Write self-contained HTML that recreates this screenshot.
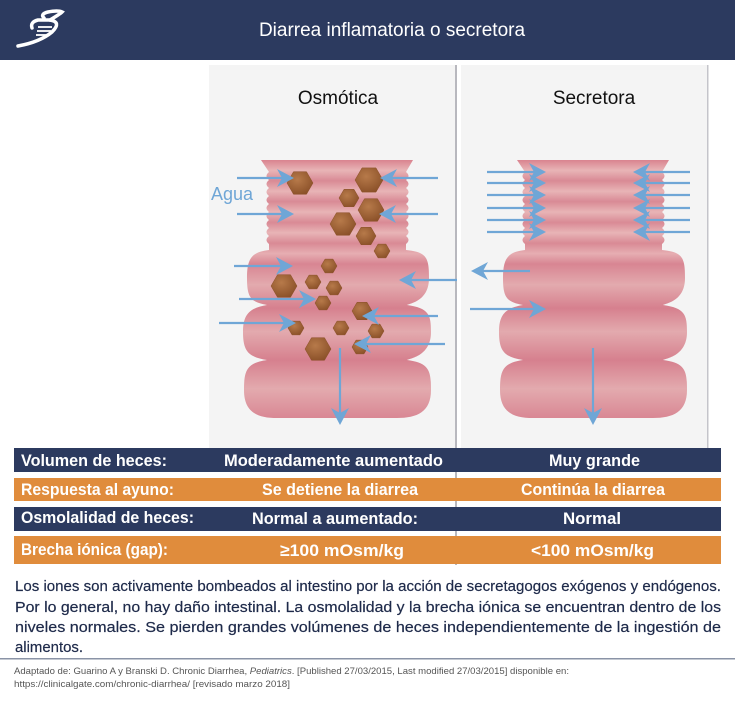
<!DOCTYPE html>
<html><head><meta charset="utf-8">
<style>
html,body{margin:0;padding:0;background:#fff;}
body{width:735px;height:696px;overflow:hidden;font-family:"Liberation Sans",sans-serif;}
</style></head><body>
<svg width="735" height="696" viewBox="0 0 735 696" xmlns="http://www.w3.org/2000/svg" font-family="Liberation Sans, sans-serif">
<defs>
<linearGradient id="g" x1="0" y1="160" x2="0" y2="420" gradientUnits="userSpaceOnUse">
<stop offset="0" stop-color="#d9838f"/>
<stop offset="0.04" stop-color="#e8b4b6"/>
<stop offset="0.08" stop-color="#d98a95"/>
<stop offset="0.12" stop-color="#e8b4b6"/>
<stop offset="0.16" stop-color="#d98a95"/>
<stop offset="0.20" stop-color="#e8b4b6"/>
<stop offset="0.24" stop-color="#d98a95"/>
<stop offset="0.28" stop-color="#e8b4b6"/>
<stop offset="0.32" stop-color="#d98a95"/>
<stop offset="0.36" stop-color="#e6aeb2"/>
<stop offset="0.40" stop-color="#d88592"/>
<stop offset="0.48" stop-color="#e3aaae"/>
<stop offset="0.57" stop-color="#d6808e"/>
<stop offset="0.66" stop-color="#e3aaae"/>
<stop offset="0.77" stop-color="#d6808e"/>
<stop offset="0.88" stop-color="#e3aaae"/>
<stop offset="1" stop-color="#d88592"/>
</linearGradient>
<radialGradient id="h" cx="0.4" cy="0.35" r="0.7">
<stop offset="0" stop-color="#b77a4a"/>
<stop offset="1" stop-color="#8a5028"/>
</radialGradient>
<path id="int" d="M -76,160 L 76,160 L 69,172 Q 74,176 69,180 Q 74,184 69,188 Q 74,192 69,196 Q 74,200 69,204 Q 74,208 69,212 Q 74,216 69,220 Q 74,224 69,228 Q 74,232 69,236 Q 74,240 69,244 L 69,250 C 90,252 92,258 92,278 C 92,300 75,303 70,305 C 92,308 94,315 94,332 C 94,355 75,358 70,360 C 92,363 94,370 94,390 C 94,412 80,418 60,418 L -60,418 C -80,418 -93,412 -93,390 C -93,370 -90,363 -70,360 C -88,357 -94,352 -94,332 C -94,315 -88,308 -70,305 C -86,302 -90,298 -90,278 C -90,258 -85,252 -68,250 L -68,244 Q -73,240 -68,236 Q -73,232 -68,228 Q -73,224 -68,220 Q -73,216 -68,212 Q -73,208 -68,204 Q -73,200 -68,196 Q -73,192 -68,188 Q -73,184 -68,180 Q -73,176 -68,172 Z"/>
<g id="ar"><path d="M1,0 L-16,-9 L-11,0 L-16,9 Z" fill="#6fa6d6"/></g>
</defs>
<rect x="0" y="0" width="735" height="60" fill="#2c3a5f"/>
<text x="392" y="36" fill="#fff" font-size="19" text-anchor="middle">Diarrea inflamatoria o secretora</text>
<g fill="none" stroke="#fff" stroke-width="3.5" stroke-linecap="round">
<path d="M18,46 Q40,42 52,32 Q62,22 50,20 L38,20 Q30,22 32,28"/>
<path d="M50,20 Q60,14 62,12 Q58,10 48,12 Q40,14 44,18"/>
</g>
<g stroke="#fff" stroke-width="1.8"><line x1="38" y1="27" x2="52" y2="27"/><line x1="37" y1="31" x2="51" y2="31"/><line x1="36" y1="35" x2="48" y2="35"/></g>
<rect x="209" y="65" width="246" height="383" fill="#f4f4f4"/>
<rect x="461" y="65" width="246" height="383" fill="#f4f4f4"/>
<rect x="455" y="65" width="2" height="500" fill="#b8b8be"/>
<rect x="707" y="65" width="1.5" height="383" fill="#c4c4ca"/>
<text x="338" y="104" font-size="19" text-anchor="middle" fill="#111">Osmótica</text>
<text x="594" y="104" font-size="19" text-anchor="middle" fill="#111">Secretora</text>
<use href="#int" transform="translate(337,0)" fill="url(#g)"/>
<use href="#int" transform="translate(593,0)" fill="url(#g)"/>
<text x="211" y="200" font-size="18" fill="#6fa6d6">Agua</text>
<g fill="url(#h)" stroke="#8a5028" stroke-width="0.5">
<polygon points="313,183 306.5,194.3 293.5,194.3 287,183 293.5,171.7 306.5,171.7"/>
<polygon points="383,180 376,192.1 362,192.1 355,180 362,167.9 376,167.9"/>
<polygon points="359,198 354,206.7 344,206.7 339,198 344,189.3 354,189.3"/>
<polygon points="384,210 377.5,221.3 364.5,221.3 358,210 364.5,198.7 377.5,198.7"/>
<polygon points="356,224 349.5,235.3 336.5,235.3 330,224 336.5,212.7 349.5,212.7"/>
<polygon points="376,236 371,244.7 361,244.7 356,236 361,227.3 371,227.3"/>
<polygon points="390,251 386,257.9 378,257.9 374,251 378,244.1 386,244.1"/>
<polygon points="337,266 333,272.9 325,272.9 321,266 325,259.1 333,259.1"/>
<polygon points="297,286 290.5,297.3 277.5,297.3 271,286 277.5,274.7 290.5,274.7"/>
<polygon points="321,282 317,288.9 309,288.9 305,282 309,275.1 317,275.1"/>
<polygon points="342,288 338,294.9 330,294.9 326,288 330,281.1 338,281.1"/>
<polygon points="331,303 327,309.9 319,309.9 315,303 319,296.1 327,296.1"/>
<polygon points="372,311 367,319.7 357,319.7 352,311 357,302.3 367,302.3"/>
<polygon points="304,328 300,334.9 292,334.9 288,328 292,321.1 300,321.1"/>
<polygon points="349,328 345,334.9 337,334.9 333,328 337,321.1 345,321.1"/>
<polygon points="384,331 380,337.9 372,337.9 368,331 372,324.1 380,324.1"/>
<polygon points="331,349 324.5,360.3 311.5,360.3 305,349 311.5,337.7 324.5,337.7"/>
<polygon points="368,347 364,353.9 356,353.9 352,347 356,340.1 364,340.1"/>
</g>
<g stroke="#6fa6d6" stroke-width="2.2">
<line x1="237" y1="178" x2="286" y2="178"/><line x1="237" y1="214" x2="286" y2="214"/>
<line x1="234" y1="266" x2="285" y2="266"/><line x1="239" y1="299" x2="308" y2="299"/>
<line x1="219" y1="323" x2="288" y2="323"/>
<line x1="438" y1="178" x2="388" y2="178"/><line x1="438" y1="214" x2="387" y2="214"/>
<line x1="457" y1="280" x2="407" y2="280"/><line x1="438" y1="316" x2="370" y2="316"/>
<line x1="445" y1="344" x2="362" y2="344"/>
<line x1="340" y1="348" x2="340" y2="416"/>
<line x1="487" y1="172" x2="538" y2="172"/><line x1="487" y1="183" x2="538" y2="183"/><line x1="487" y1="195" x2="538" y2="195"/><line x1="487" y1="208" x2="538" y2="208"/><line x1="487" y1="220" x2="538" y2="220"/><line x1="487" y1="232" x2="538" y2="232"/>
<line x1="690" y1="172" x2="641" y2="172"/><line x1="690" y1="183" x2="641" y2="183"/><line x1="690" y1="195" x2="641" y2="195"/><line x1="690" y1="208" x2="641" y2="208"/><line x1="690" y1="220" x2="641" y2="220"/><line x1="690" y1="232" x2="641" y2="232"/>
<line x1="530" y1="271" x2="479" y2="271"/><line x1="470" y1="309" x2="538" y2="309"/>
<line x1="593" y1="348" x2="593" y2="416"/>
</g>
<use href="#ar" transform="translate(293,178)"/><use href="#ar" transform="translate(293,214)"/>
<use href="#ar" transform="translate(292,266)"/><use href="#ar" transform="translate(315,299)"/>
<use href="#ar" transform="translate(295,323)"/>
<use href="#ar" transform="translate(381,178) rotate(180)"/><use href="#ar" transform="translate(380,214) rotate(180)"/>
<use href="#ar" transform="translate(400,280) rotate(180)"/><use href="#ar" transform="translate(363,316) rotate(180)"/>
<use href="#ar" transform="translate(355,344) rotate(180)"/>
<use href="#ar" transform="translate(340,424) rotate(90)"/>
<use href="#ar" transform="translate(545,172)"/><use href="#ar" transform="translate(545,183)"/><use href="#ar" transform="translate(545,195)"/><use href="#ar" transform="translate(545,208)"/><use href="#ar" transform="translate(545,220)"/><use href="#ar" transform="translate(545,232)"/>
<use href="#ar" transform="translate(634,172) rotate(180)"/><use href="#ar" transform="translate(634,183) rotate(180)"/><use href="#ar" transform="translate(634,195) rotate(180)"/><use href="#ar" transform="translate(634,208) rotate(180)"/><use href="#ar" transform="translate(634,220) rotate(180)"/><use href="#ar" transform="translate(634,232) rotate(180)"/>
<use href="#ar" transform="translate(472,271) rotate(180)"/><use href="#ar" transform="translate(545,309)"/>
<use href="#ar" transform="translate(593,424) rotate(90)"/>
<rect x="14" y="448" width="707" height="24" fill="#2c3a5f"/>
<rect x="14" y="478" width="707" height="23" fill="#e08c3c"/>
<rect x="14" y="507" width="707" height="24" fill="#2c3a5f"/>
<rect x="14" y="536" width="707" height="28" fill="#e08c3c"/>
<g fill="#fff" font-size="17" font-weight="bold" lengthAdjust="spacingAndGlyphs">
<text x="21" y="466" textLength="146" lengthAdjust="spacingAndGlyphs">Volumen de heces:</text>
<text x="21" y="495" textLength="153" lengthAdjust="spacingAndGlyphs">Respuesta al ayuno:</text>
<text x="21" y="523" textLength="173" lengthAdjust="spacingAndGlyphs">Osmolalidad de heces:</text>
<text x="21" y="555" textLength="147" lengthAdjust="spacingAndGlyphs">Brecha iónica (gap):</text>
<text x="224" y="466" textLength="219" lengthAdjust="spacingAndGlyphs">Moderadamente aumentado</text>
<text x="262" y="495" textLength="156" lengthAdjust="spacingAndGlyphs">Se detiene la diarrea</text>
<text x="252" y="524" textLength="166" lengthAdjust="spacingAndGlyphs">Normal a aumentado:</text>
<text x="280" y="556" textLength="124" lengthAdjust="spacingAndGlyphs">≥100 mOsm/kg</text>
<text x="549" y="466" textLength="91" lengthAdjust="spacingAndGlyphs">Muy grande</text>
<text x="521" y="495" textLength="144" lengthAdjust="spacingAndGlyphs">Continúa la diarrea</text>
<text x="563" y="524" textLength="58" lengthAdjust="spacingAndGlyphs">Normal</text>
<text x="531" y="556" textLength="123" lengthAdjust="spacingAndGlyphs">&lt;100 mOsm/kg</text>
</g>
<g fill="#1e2a4a" font-size="15" stroke="#1e2a4a" stroke-width="0.2">
<text x="15" y="591" textLength="706" lengthAdjust="spacingAndGlyphs">Los iones son activamente bombeados al intestino por la acción de secretagogos exógenos y endógenos.</text>
<text x="15" y="612" textLength="706" lengthAdjust="spacingAndGlyphs">Por lo general, no hay daño intestinal. La osmolalidad y la brecha iónica se encuentran dentro de los</text>
<text x="15" y="632" textLength="706" lengthAdjust="spacingAndGlyphs">niveles normales. Se pierden grandes volúmenes de heces independientemente de la ingestión de</text>
<text x="15" y="652" textLength="68" lengthAdjust="spacingAndGlyphs">alimentos.</text>
</g>
<rect x="0" y="658" width="735" height="1.5" fill="#8a93a6"/>
<g fill="#555" font-size="9.5">
<text x="14" y="674" textLength="555" lengthAdjust="spacingAndGlyphs">Adaptado de: Guarino A y Branski D. Chronic Diarrhea, <tspan font-style="italic">Pediatrics</tspan>. [Published 27/03/2015, Last modified 27/03/2015] disponible en:</text>
<text x="14" y="687" textLength="276" lengthAdjust="spacingAndGlyphs">https://clinicalgate.com/chronic-diarrhea/ [revisado marzo 2018]</text>
</g>
</svg>
</body></html>
